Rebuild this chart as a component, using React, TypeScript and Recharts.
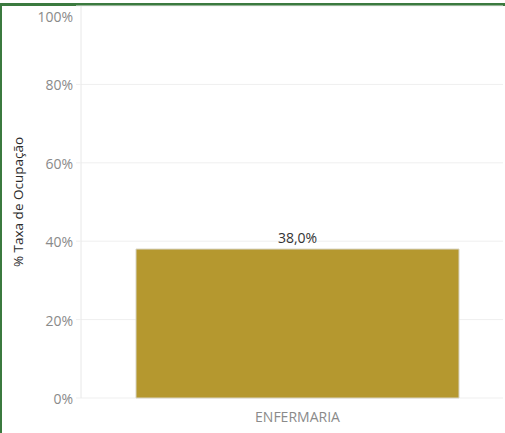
import { Bar, BarChart, CartesianGrid, Label, LabelList, XAxis, YAxis } from 'recharts';

const categories = ['ENFERMARIA'];
const occupancy = [0.38];
const yTicks = [0, 0.2, 0.4, 0.6, 0.8, 1];

const chartData = categories.map((name, i) => ({ name, rate: occupancy[i] }));

const pct = (v: number) => `${Math.round(v * 100)}%`;
const pctDecimal = (v: number) => `${(v * 100).toFixed(1).replace('.', ',')}%`;

function YTick(props: any) {
  const { x, y, payload } = props;
  // Tableau pushes the top label inside the pane
  const shift = payload.value === 1 ? 11 : 1;
  return (
    <text x={x} y={y + shift} dy="0.355em" textAnchor="end" fill="#8a8a8a" fontSize={14}>
      {pct(payload.value)}
    </text>
  );
}

export default function App() {
  return (
    <div
      style={{
        position: 'absolute',
        left: 0,
        top: 0,
        width: 505,
        height: 433,
        background: '#fff',
        fontFamily: '"Open Sans", sans-serif',
      }}
    >
      <div style={{ position: 'absolute', left: 0, top: 3, width: 505, height: 3, background: '#3b7a3f' }} />
      <div style={{ position: 'absolute', left: 0, top: 3, width: 2, height: 430, background: '#3b7a3f' }} />
      <BarChart
        width={505}
        height={433}
        data={chartData}
        margin={{ top: 6, right: 2, bottom: 5, left: 0 }}
        barSize={323}
        style={{ position: 'absolute', left: 0, top: 0 }}
      >
        <CartesianGrid vertical={false} stroke="#efefef" />
        <XAxis
          dataKey="name"
          height={30}
          axisLine={false}
          tickLine={false}
          tickMargin={8}
          padding={{ left: 11, right: 0 }}
          tick={{ fill: '#8a8a8a', fontSize: 14 }}
        />
        <YAxis
          width={81}
          domain={[0, 1]}
          ticks={yTicks}
          interval={0}
          axisLine={{ stroke: '#e8e8e8' }}
          tickLine={{ stroke: '#efefef' }}
          tickSize={5}
          tickMargin={3}
          tick={<YTick />}
        >
          <Label
            value="% Taxa de Ocupação"
            angle={-90}
            position="insideLeft"
            offset={18}
            style={{ textAnchor: 'middle', fill: '#2b2b2b', fontSize: 13.5 }}
          />
        </YAxis>
        <Bar dataKey="rate" fill="#b5982f" stroke="#d8d4c4" strokeWidth={1} isAnimationActive={false}>
          <LabelList dataKey="rate" position="top" offset={6} formatter={pctDecimal} fill="#333" fontSize={14} />
        </Bar>
      </BarChart>
    </div>
  );
}
